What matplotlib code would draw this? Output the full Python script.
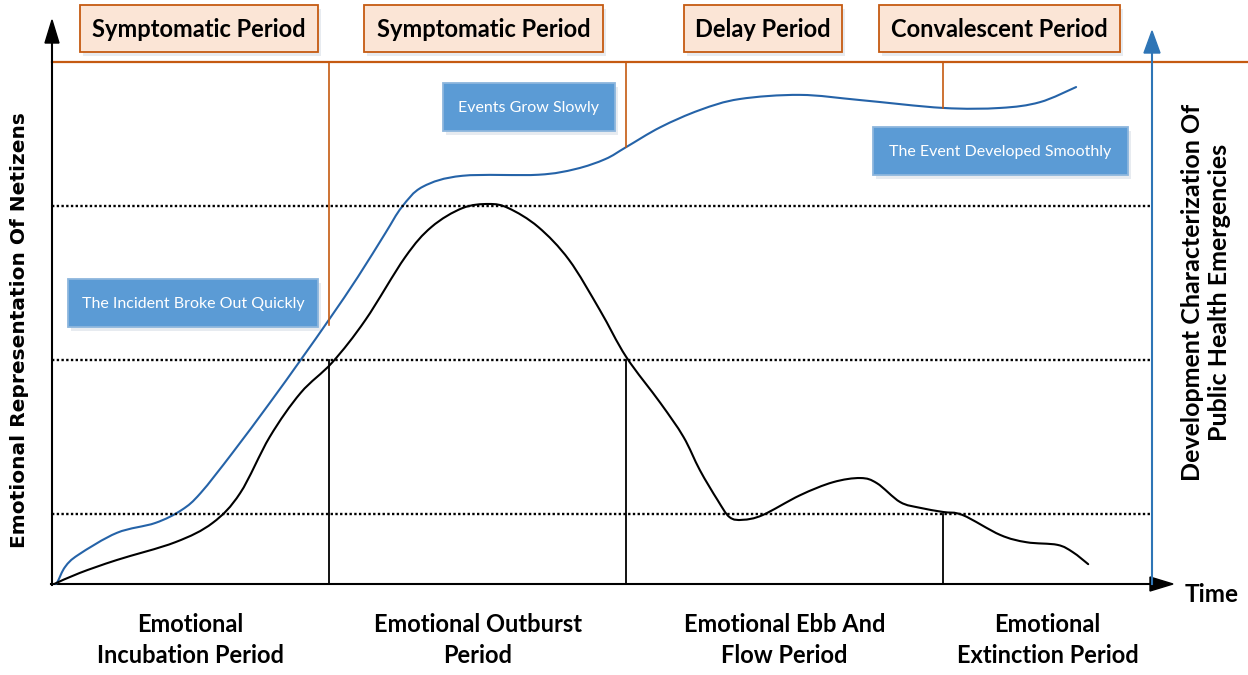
import numpy as np
import matplotlib.pyplot as plt
from matplotlib.patches import Rectangle, Polygon, PathPatch
from matplotlib.path import Path
from matplotlib.transforms import blended_transform_factory

# emotional curve of netizens (time 0-100, value 0-100)
emo_t = [0.2, 2.5, 5.9, 11.2, 14.6, 17.1, 19.8, 22.6, 25.5, 28.5, 32.1, 34.5, 37.3,
         39.7, 41.5, 44.2, 47.0, 49.8, 52.2, 55.3, 57.4, 58.9, 60.5, 61.6, 62.8, 64.6,
         68.0, 71.0, 73.5, 75.0, 77.1, 78.9, 81.0, 82.8, 86.2, 88.6, 91.4, 92.8, 94.2]
emo_v = [0.0, 2.1, 4.6, 8.0, 11.7, 17.4, 28.2, 36.6, 42.5, 50.6, 62.6, 68.4, 72.0,
         72.8, 72.0, 68.4, 62.1, 52.5, 43.5, 34.7, 28.2, 21.8, 16.1, 12.8, 12.3, 13.2,
         17.0, 19.5, 20.3, 19.3, 15.7, 14.6, 13.8, 13.2, 9.4, 8.0, 7.5, 6.1, 3.8]

# development of the public health emergency
evt_t = [0.3, 0.5, 1.2, 2.4, 5.9, 9.4, 11.8, 13.5, 16.4, 19.8, 22.6, 25.3, 27.8, 30.3,
         31.8, 33.7, 37.3, 44.2, 47.6, 50.3, 52.2, 55.3, 58.9, 62.5, 68.0, 73.5, 81.0,
         86.2, 89.8, 93.1]
evt_v = [0.0, 0.4, 3.3, 5.6, 9.8, 11.7, 14.2, 17.4, 25.1, 34.7, 42.9, 51.0, 58.8, 67.2,
         72.2, 76.1, 78.2, 78.4, 79.5, 81.4, 83.7, 87.5, 90.8, 92.9, 93.7, 92.7, 91.2,
         91.2, 92.3, 95.2]

phase_bounds = [25.2, 52.2, 81.0]
emo_levels = [13.4, 42.9, 72.4]
emo_bound_tops = [42.9, 42.9, 13.4]
evt_bound_ends = [49.6, 83.7, 91.2]

emo_phases = ["Emotional\nIncubation Period", "Emotional Outburst\nPeriod",
              "Emotional Ebb And\nFlow Period", "Emotional\nExtinction Period"]
evt_phases = ["Symptomatic Period", "Symptomatic Period", "Delay Period", "Convalescent Period"]
evt_notes = ["The Incident Broke Out Quickly", "Events Grow Slowly", "The Event Developed Smoothly"]

ORANGE = "#C55A11"
PEACH = "#FBE5D6"
BOXBLUE = "#5B9BD5"
CURVEBLUE = "#2563A8"
AXBLUE = "#2E75B6"


def smooth_path(xs, ys):
    # bezier segments through the points (catmull-rom tangents)
    p = np.column_stack([xs, ys])
    verts = [p[0]]
    codes = [Path.MOVETO]
    for i in range(len(p) - 1):
        p0 = p[i - 1] if i > 0 else p[i]
        p3 = p[i + 2] if i + 2 < len(p) else p[i + 1]
        c1 = p[i] + (p[i + 1] - p0) / 6
        c2 = p[i + 1] - (p3 - p[i]) / 6
        verts += [c1, c2, p[i + 1]]
        codes += [Path.CURVE4] * 3
    return Path(verts, codes)


W, H = 1248, 675
fig = plt.figure(figsize=(W / 100, H / 100), dpi=100)

# decoration layer in pixel coordinates
deco = fig.add_axes([0, 0, 1, 1])
deco.set_xlim(0, W)
deco.set_ylim(H, 0)
deco.axis("off")

# plot area: x 52..1152 px, y 584..62 px
ax = fig.add_axes([52 / W, (H - 584) / H, 1100 / W, 522 / H])
ax.set_xlim(0, 100)
ax.set_ylim(0, 100)
ax.axis("off")

for lv in emo_levels:
    ax.plot([0, 100], [lv, lv], color="black", lw=1.7, ls=(0, (1.0, 1.0)), clip_on=False)

for t, top in zip(phase_bounds, emo_bound_tops):
    ax.plot([t, t], [0, top], color="black", lw=1.3, clip_on=False)
for t, end in zip(phase_bounds, evt_bound_ends):
    ax.plot([t, t], [end, 100], color=ORANGE, lw=1.2, clip_on=False)

ax.add_patch(PathPatch(smooth_path(evt_t, evt_v), fill=False, edgecolor=CURVEBLUE,
                       lw=1.5, clip_on=False, capstyle="round"))
ax.add_patch(PathPatch(smooth_path(emo_t, emo_v), fill=False, edgecolor="black",
                       lw=1.5, clip_on=False, capstyle="round"))

# axes and arrows
deco.plot([52, W], [62, 62], color=ORANGE, lw=1.6)
deco.plot([52, 52], [585, 42], color="black", lw=1.5)
deco.add_patch(Polygon([(45, 43), (59, 43), (52, 20)], closed=True, color="black"))
deco.plot([51, 1151], [584, 584], color="black", lw=1.5)
deco.add_patch(Polygon([(1150, 577), (1150, 591), (1173, 584)], closed=True, color="black"))
deco.plot([1152, 1152], [584, 52], color=AXBLUE, lw=1.5)
deco.add_patch(Polygon([(1144, 53), (1160, 53), (1152, 31)], closed=True, color=AXBLUE))


def box(x0, y0, x1, y1, fc, ec, text, color, size, weight):
    deco.add_patch(Rectangle((x0 + 3, y0 + 4), x1 - x0, y1 - y0, facecolor="#dde3ea",
                             edgecolor="none", alpha=0.7))
    deco.add_patch(Rectangle((x0, y0), x1 - x0, y1 - y0, facecolor=fc, edgecolor=ec, lw=1.3))
    deco.text((x0 + x1) / 2, (y0 + y1) / 2 + 1, text, ha="center", va="center",
              color=color, fontsize=size, fontweight=weight, family="Lato")


top_boxes = [(80, 5, 318, 52), (364, 5, 603, 52), (684, 5, 842, 52), (879, 5, 1120, 52)]
for (x0, y0, x1, y1), s in zip(top_boxes, evt_phases):
    box(x0, y0, x1, y1, PEACH, ORANGE, s, "black", 17, "bold")

note_boxes = [(68, 279, 318, 327), (443, 83, 615, 131), (873, 127, 1128, 175)]
for (x0, y0, x1, y1), s in zip(note_boxes, evt_notes):
    box(x0, y0, x1, y1, BOXBLUE, "#8db6dd", s, "white", 11.5, "normal")

# bottom phase labels
bt = blended_transform_factory(ax.transData, deco.transData)
edges = [0] + phase_bounds + [100]
for i, s in enumerate(emo_phases):
    xm = (edges[i] + edges[i + 1]) / 2
    ax.text(xm, 640, s, ha="center", va="center", fontsize=17, fontweight="bold",
            family="Lato", linespacing=1.45, transform=bt, clip_on=False)

deco.text(1212, 595, "Time", ha="center", va="center", fontsize=17.5,
          fontweight="bold", family="Lato")
deco.text(20, 330, "Emotional Representation Of Netizens", rotation=90, ha="center",
          va="center", fontsize=14.5, fontweight="bold", family="DejaVu Sans")
deco.text(1206, 292, "Development Characterization Of\nPublic Health Emergencies",
          rotation=90, ha="center", va="center", fontsize=18, fontweight="bold",
          family="Lato", linespacing=1.25)

fig.savefig("out.png", dpi=100)
